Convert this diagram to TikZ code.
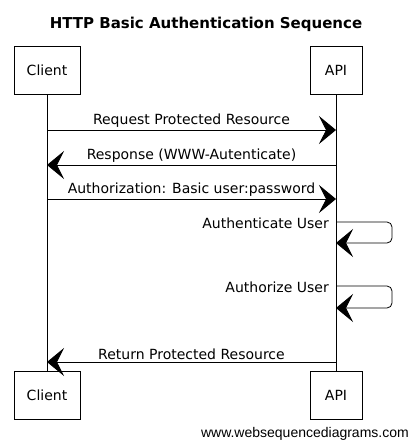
\documentclass[tikz,border=0pt]{standalone}
\usepackage{fontspec}
\setmainfont{DejaVu Sans}
\newfontfamily\footerfont{Liberation Sans}
\usetikzlibrary{positioning, arrows.meta}

\begin{document}
\begin{tikzpicture}[
  x=1pt, y=-1pt,
  font=\fontsize{14}{16}\selectfont,
  actor/.style={draw, line width=0.8pt, minimum width=66pt, minimum height=48pt, inner sep=2pt},
  apiactor/.style={actor, minimum width=52pt},
  lifeline/.style={line width=0.7pt},
  msg/.style={line width=0.8pt, -{Stealth[length=17pt, width=28pt, inset=7pt]}},
  selfmsg/.style={msg, rounded corners=5pt},
  msgtext/.style={above=1pt, inner sep=1pt},
]
\useasboundingbox (0,0) rectangle (411,442);

\node[font=\fontsize{15}{17}\selectfont\bfseries] (title) at (206,24) {HTTP Basic Authentication Sequence};

% participants
\node[actor] (clientTop) at (47,70) {Client};
\node[apiactor] (apiTop) at (336,70) {API};
\node[actor] (clientBot) at (47,395) {Client};
\node[apiactor] (apiBot) at (336,395) {API};

\draw[lifeline] (clientTop) -- (clientBot);
\draw[lifeline] (apiTop) -- (apiBot);

% message points on the lifelines
\coordinate (c1) at (47,130);  \coordinate (a1) at (336,130);
\coordinate (c2) at (47,165);  \coordinate (a2) at (336,165);
\coordinate (c3) at (47,199);  \coordinate (a3) at (336,199);
\coordinate (a4) at (336,222); \coordinate (a4b) at (336,243);
\coordinate (a5) at (336,286); \coordinate (a5b) at (336,308);
\coordinate (c6) at (47,362);  \coordinate (a6) at (336,362);

\draw[msg] (c1) -- node[msgtext] {Request Protected Resource} (a1);
\draw[msg] (a2) -- node[msgtext] {Response (WWW-Autenticate)} (c2);
\draw[msg] (c3) -- node[msgtext] {Authorization: Basic user:password} (a3);

\draw[selfmsg] (a4) -- ++(56,0) -- ++(0,21) -- (a4b);
\node[anchor=east, inner sep=1pt] (authn) at (330,223) {Authenticate User};
\draw[selfmsg] (a5) -- ++(56,0) -- ++(0,22) -- (a5b);
\node[anchor=east, inner sep=1pt] (authz) at (330,287) {Authorize User};

\draw[msg] (a6) -- node[msgtext] {Return Protected Resource} (c6);

\node[anchor=east, inner sep=0pt, font=\footerfont\fontsize{14}{16}\selectfont] (footer) at (409,434) {www.websequencediagrams.com};
\end{tikzpicture}
\end{document}
